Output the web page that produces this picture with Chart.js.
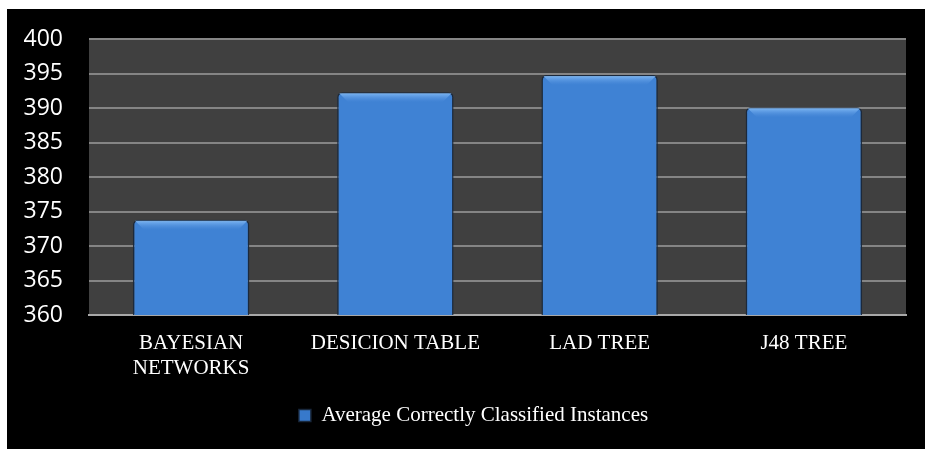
<!DOCTYPE html>
<html>
<head>
<meta charset="utf-8">
<script src="https://cdn.jsdelivr.net/npm/chart.js@4.4.1/dist/chart.umd.min.js"></script>
<style>
  html, body { margin: 0; padding: 0; background: #fff; overflow: hidden; }
  #wrap { position: absolute; left: 7px; top: 9px; width: 918px; height: 440px; background: #000; }
</style>
</head>
<body>
<div id="wrap"><canvas id="myChart"></canvas></div>
<script>
const categories = [["BAYESIAN", "NETWORKS"], "DESICION TABLE", "LAD TREE", "J48 TREE"];
const seriesName = "Average Correctly Classified Instances";
const values = [373.8, 392.3, 394.8, 390.1];
const yTicks = [360, 365, 370, 375, 380, 385, 390, 395, 400];

// fond gris de la zone de tracé
const plotBg = {
    id: 'plotBg',
    beforeDraw(chart) {
        const { ctx, chartArea: a } = chart;
        ctx.save();
        ctx.fillStyle = '#404040';
        ctx.fillRect(a.left, a.top, a.right - a.left, a.bottom - a.top);
        ctx.restore();
    }
};

// la légende est un peu décalée vers la droite dans l'original
const legendShift = {
    id: 'legendShift',
    afterLayout(chart) {
        if (chart.legend) {
            chart.legend.left += 17;
            chart.legend.right += 17;
        }
    }
};

// petit effet biseau sur les barres
const bevel = {
    id: 'bevel',
    afterDatasetsDraw(chart) {
        const ctx = chart.ctx;
        chart.getDatasetMeta(0).data.forEach(bar => {
            const l = bar.x - bar.width / 2, r = bar.x + bar.width / 2;
            const t = bar.y, b = bar.base;
            ctx.save();
            let g = ctx.createLinearGradient(0, t, 0, t + 10);
            g.addColorStop(0, 'rgba(140,195,250,0.95)');
            g.addColorStop(1, 'rgba(90,150,225,0)');
            ctx.fillStyle = g;
            ctx.beginPath();
            ctx.moveTo(l + 2, t + 1);
            ctx.lineTo(r - 2, t + 1);
            ctx.lineTo(r - 11, t + 10);
            ctx.lineTo(l + 11, t + 10);
            ctx.closePath();
            ctx.fill();
            g = ctx.createLinearGradient(0, b - 8, 0, b);
            g.addColorStop(0, 'rgba(30,80,150,0)');
            g.addColorStop(1, 'rgba(30,70,130,0.8)');
            ctx.fillStyle = g;
            ctx.fillRect(l + 1, b - 8, r - l - 2, 8);
            ctx.restore();
        });
    }
};

function barFill(context) {
    const bar = context.element;
    if (!bar || !bar.width) return '#3f82d4';
    const l = bar.x - bar.width / 2, r = bar.x + bar.width / 2;
    const g = context.chart.ctx.createLinearGradient(l, 0, r, 0);
    g.addColorStop(0, '#3373c4');
    g.addColorStop(0.12, '#3e82d5');
    g.addColorStop(0.6, '#4288da');
    g.addColorStop(1, '#3779cb');
    return g;
}

const config = {
    type: 'bar',
    data: {
        labels: categories,
        datasets: [{
            label: seriesName,
            data: values,
            backgroundColor: barFill,
            borderColor: 'rgba(25,40,60,0.95)',
            borderWidth: 1.5,
            borderRadius: 5,
            borderSkipped: 'bottom',
            barPercentage: 0.57,
            categoryPercentage: 1
        }]
    },
    options: {
        responsive: true,
        maintainAspectRatio: false,
        animation: false,
        layout: { padding: { left: 0, top: 30, right: 19, bottom: 13 } },
        scales: {
            x: {
                grid: { display: false },
                border: { display: true, color: '#a8a8a8', width: 2 },
                ticks: {
                    color: '#ffffff',
                    font: { family: 'Liberation Serif', size: 21, lineHeight: 1.2 },
                    padding: 8,
                    maxRotation: 0,
                    autoSkip: false
                },
                afterFit(scale) { scale.height = 80; }
            },
            y: {
                min: 360,
                max: 400,
                afterBuildTicks(scale) { scale.ticks = yTicks.map(v => ({ value: v })); },
                grid: {
                    color: ctx => ctx.tick && ctx.tick.value === 360 ? '#a8a8a8' : '#858585',
                    lineWidth: 2,
                    drawTicks: false
                },
                border: { display: false },
                ticks: {
                    color: '#ffffff',
                    font: { family: 'Open Sans', size: 23 },
                    padding: 26
                },
                afterFit(scale) {
                    scale.width = 82;
                    scale.paddingTop = 0;
                    scale.paddingBottom = 0;
                }
            }
        },
        plugins: {
            legend: {
                position: 'bottom',
                labels: {
                    color: '#ffffff',
                    font: { family: 'Liberation Serif', size: 21 },
                    boxWidth: 12,
                    boxHeight: 12,
                    padding: 10
                }
            },
            tooltip: { enabled: false }
        }
    },
    plugins: [plotBg, legendShift, bevel]
};

new Chart('myChart', config);
</script>
</body>
</html>
